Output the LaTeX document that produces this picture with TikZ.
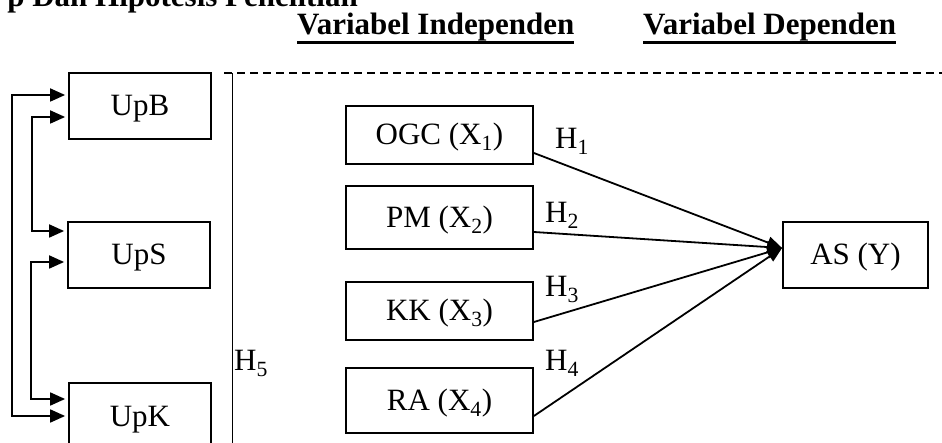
\documentclass[tikz,border=0pt]{standalone}
\usepackage{fontspec}
\setmainfont{Liberation Serif}
\usetikzlibrary{arrows.meta}
\begin{document}
\begin{tikzpicture}[x=1pt,y=-1pt,
  every node/.style={font=\fontsize{31pt}{37pt}\selectfont, inner sep=0pt},
  varbox/.style={draw, line width=1.8pt, text height=20pt, text depth=0pt},
  leftbox/.style={varbox, minimum width=142pt, minimum height=66pt},
  midbox/.style={varbox, minimum width=187pt},
  heading/.style={font=\fontsize{31pt}{37pt}\selectfont\bfseries, anchor=base west},
  hlabel/.style={anchor=base west},
  link/.style={line width=1.8pt, -{Triangle[length=15pt,width=12pt]}},
  biarrow/.style={line width=1.8pt, {Triangle[length=15pt,width=13pt]}-{Triangle[length=15pt,width=13pt]}},
  frame/.style={line width=1.8pt}
]
\useasboundingbox (0,0) rectangle (942,443);
\clip (0,0) rectangle (942,443);

% headings
\node[font=\fontsize{31pt}{37pt}\selectfont\bfseries, anchor=base east] (title) at (358,7) {p Dan Hipotesis Penelitian};
\node[heading] (hind) at (297,35) {Variabel Independen};
\node[heading] (hdep) at (643,35) {Variabel Dependen};
\draw[line width=2.5pt] ([yshift=-7.5pt]hind.base west) -- ([yshift=-7.5pt]hind.base east);
\draw[line width=2.5pt] ([yshift=-7.5pt]hdep.base west) -- ([yshift=-7.5pt]hdep.base east);

% moderating boxes on the left
\node[leftbox] (upb) at (140,106) {UpB};
\node[leftbox] (ups) at (139,255) {UpS};
\node[leftbox] (upk) at (140,416) {UpK};

% independent variables
\node[midbox, minimum height=58pt] (ogc) at (439.5,135) {OGC (X\textsubscript{1})};
\node[midbox, minimum height=63pt] (pm)  at (439.5,217.5) {PM (X\textsubscript{2})};
\node[midbox, minimum height=58pt] (kk)  at (439.5,311) {KK (X\textsubscript{3})};
\node[midbox, minimum height=65pt] (ra)  at (439.5,400.5) {RA (X\textsubscript{4})};

% dependent variable
\node[varbox, minimum width=145pt, minimum height=66pt] (as) at (855.5,255) {AS (Y)};
\coordinate (tip) at ([yshift=7pt]as.west);

% grouping frame
\coordinate (ftop) at (232.5,73);
\coordinate (fbot) at (232.5,460);
\coordinate (fend) at (942,73);
\draw[frame] (ftop) -- (fbot);
\draw[frame, dash pattern=on 8pt off 5pt] (224,73) -- (fend);
\node[hlabel] (h5) at (234,370.5) {H\textsubscript{5}};

% hypothesis paths
\draw[link] ([yshift=-18pt]ogc.east) -- (tip);
\draw[link] ([yshift=-14.5pt]pm.east) -- (tip);
\draw[link] ([yshift=-11pt]kk.east) -- (tip);
\draw[link] ([yshift=-15.5pt]ra.east) -- (tip);
\node[hlabel] (h1) at (555,149) {H\textsubscript{1}};
\node[hlabel] (h2) at (545,223) {H\textsubscript{2}};
\node[hlabel] (h3) at (545,296.5) {H\textsubscript{3}};
\node[hlabel] (h4) at (545,370.5) {H\textsubscript{4}};

% links between the moderating boxes
\draw[biarrow] ([xshift=-3pt,yshift=11pt]upb.west) -- ++(-53pt,0) |- ([xshift=-3pt]upk.west);
\draw[biarrow] ([xshift=-3pt,yshift=-11pt]upb.west) -- ++(-33pt,0) |- ([xshift=-3pt,yshift=24pt]ups.west);
\draw[biarrow] ([xshift=-3pt,yshift=-7pt]ups.west) -- ++(-33pt,0) |- ([xshift=-3pt,yshift=17pt]upk.west);
\end{tikzpicture}
\end{document}
